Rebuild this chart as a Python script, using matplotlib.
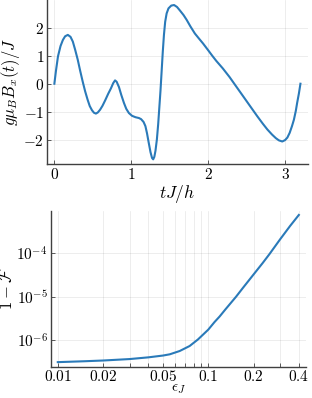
import numpy as np
import matplotlib
matplotlib.use("Agg")
import matplotlib.pyplot as plt
from matplotlib.ticker import FixedLocator, FuncFormatter, NullFormatter

plt.rcParams['mathtext.fontset'] = 'cm'
plt.rcParams['font.family'] = ['DejaVu Serif']
plt.rcParams['axes.unicode_minus'] = True

# Top panel: pulse shape g*mu_B*B_x(t)/J vs tJ/h
t_vals = [0.0, 0.02, 0.047, 0.08, 0.111, 0.14, 0.175, 0.21, 0.24, 0.27,
          0.304, 0.335, 0.368, 0.40, 0.432, 0.46, 0.489, 0.515, 0.54, 0.565,
          0.595, 0.626, 0.66, 0.70, 0.735, 0.765, 0.789, 0.81, 0.84, 0.87,
          0.905, 0.935, 0.969, 1.01, 1.055, 1.10, 1.128, 1.16, 1.184, 1.205,
          1.226, 1.25, 1.27, 1.285, 1.30, 1.315, 1.333, 1.35, 1.365, 1.38,
          1.395, 1.41, 1.425, 1.441, 1.46, 1.484, 1.52, 1.557, 1.595, 1.634,
          1.68, 1.72, 1.77, 1.827, 1.88, 1.934, 2.0, 2.054, 2.105, 2.19,
          2.278, 2.36, 2.45, 2.55, 2.64, 2.71, 2.77, 2.83, 2.88, 2.92,
          2.964, 3.0, 3.03, 3.06, 3.09, 3.115, 3.14, 3.157, 3.18, 3.2]
b_vals = [0.0, 0.45, 0.98, 1.35, 1.57, 1.70, 1.75, 1.68, 1.51, 1.22,
          0.86, 0.47, 0.08, -0.27, -0.57, -0.80, -0.95, -1.04, -1.07, -1.03,
          -0.93, -0.79, -0.60, -0.36, -0.17, 0.02, 0.12, 0.07, -0.12, -0.40,
          -0.69, -0.90, -1.05, -1.15, -1.20, -1.23, -1.27, -1.37, -1.52, -1.78,
          -2.10, -2.45, -2.66, -2.71, -2.62, -2.40, -2.0, -1.45, -0.85, -0.25,
          0.45, 1.15, 1.75, 2.22, 2.52, 2.70, 2.80, 2.82, 2.75, 2.62,
          2.46, 2.29, 2.05, 1.80, 1.62, 1.44, 1.20, 1.00, 0.82, 0.55,
          0.24, -0.08, -0.43, -0.82, -1.17, -1.43, -1.64, -1.82, -1.95, -2.03,
          -2.07, -2.02, -1.93, -1.76, -1.52, -1.29, -0.97, -0.69, -0.35, 0.0]

# Bottom panel: infidelity 1-F vs epsilon_J
eps_vals = [0.01, 0.015, 0.02, 0.03, 0.04, 0.05, 0.0555, 0.0646, 0.0752, 0.0853,
            0.1, 0.11, 0.119, 0.13, 0.153, 0.17, 0.2, 0.23, 0.255, 0.3,
            0.35, 0.4]
inf_vals = [3.1e-7, 3.25e-7, 3.38e-7, 3.65e-7, 4.0e-7, 4.4e-7, 4.7e-7, 5.6e-7, 7.3e-7, 1.03e-6,
            1.74e-6, 2.6e-6, 3.5e-6, 5.1e-6, 1.0e-5, 1.6e-5, 3.26e-5, 6.0e-5, 9.6e-5, 2.1e-4,
            4.3e-4, 7.7e-4]

top_xticks = [0, 1, 2, 3]
top_yticks = [-2, -1, 0, 1, 2]
bot_xticks = [0.01, 0.02, 0.05, 0.1, 0.2, 0.4]
bot_xminor = [0.03, 0.04, 0.06, 0.07, 0.08, 0.09, 0.3]
bot_yticks = [1e-6, 1e-5, 1e-4]

color = '#2a7ab9'
spine_c = '#404040'

fig = plt.figure(figsize=(3.12, 3.98), dpi=100)

def style(ax):
    for s in ['top', 'right']:
        ax.spines[s].set_visible(False)
    for s in ['left', 'bottom']:
        ax.spines[s].set_color(spine_c)
        ax.spines[s].set_linewidth(1.0)
    ax.tick_params(which='both', direction='in', length=3, width=0.6,
                   color=spine_c, labelsize=11, pad=2)
    ax.grid(True, which='both', color='black', alpha=0.1, linewidth=0.5)
    ax.set_axisbelow(True)

ax1 = fig.add_axes([0.1506, 0.588, 0.836, 0.411])
ax1.plot(t_vals, b_vals, color=color, lw=1.5)
ax1.margins(x=0.03, y=0.03)
ax1.set_xticks(top_xticks)
ax1.set_yticks(top_yticks)
fmt = FuncFormatter(lambda v, p: r'$%g$' % v)
ax1.xaxis.set_major_formatter(fmt)
ax1.yaxis.set_major_formatter(fmt)
style(ax1)
ax1.set_xlabel(r'$tJ/h$', fontsize=12.5, labelpad=1)
ax1.set_ylabel(r'$g\mu_B B_x(t)/J$', fontsize=12, labelpad=1)

ax2 = fig.add_axes([0.162, 0.079, 0.819, 0.392])
ax2.plot(eps_vals, inf_vals, color=color, lw=1.5)
ax2.set_xscale('log')
ax2.set_yscale('log')
ax2.margins(x=0.03, y=0.03)
ax2.xaxis.set_major_locator(FixedLocator(bot_xticks))
ax2.xaxis.set_minor_locator(FixedLocator(bot_xminor))
ax2.xaxis.set_major_formatter(FuncFormatter(lambda v, p: r'$%g$' % v))
ax2.xaxis.set_minor_formatter(NullFormatter())
ax2.yaxis.set_major_locator(FixedLocator(bot_yticks))
ax2.yaxis.set_minor_locator(FixedLocator([]))
ax2.yaxis.set_major_formatter(FuncFormatter(lambda v, p: r'$10^{%d}$' % int(round(np.log10(v)))))
style(ax2)
ax2.set_xlabel(r'$\epsilon_J$', fontsize=11, labelpad=-2)
ax2.set_ylabel(r'$1-\mathcal{F}$', fontsize=12, labelpad=0)

fig.savefig('out.png', dpi=100)
